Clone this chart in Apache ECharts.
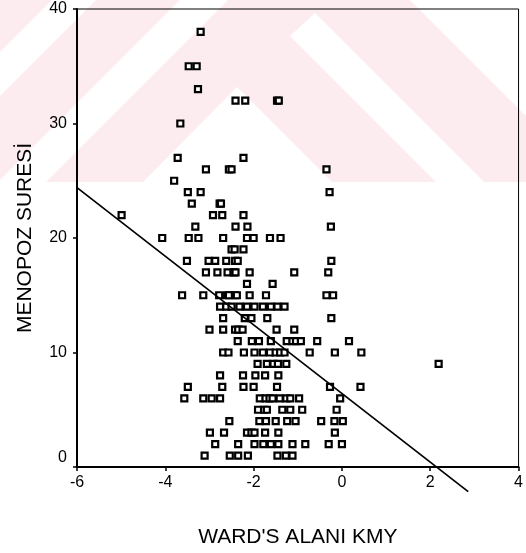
<!DOCTYPE html>
<html>
<head>
<meta charset="utf-8">
<script src="https://cdn.jsdelivr.net/npm/echarts@6/dist/echarts.min.js"></script>
<style>
  html, body { margin: 0; padding: 0; background: #ffffff; }
  #main { width: 526px; height: 553px; }
</style>
</head>
<body>
<div id="main"></div>
<script>
// Ward's area (KMY) against years since menopause, one entry per woman.
const wardArea = [
  -3.20,
  -3.47, -3.29,
  -3.26,
  -2.41, -2.19, -1.47, -1.43,
  -3.66,
  -3.72, -2.23,
  -3.08, -2.56, -2.50, -0.35,
  -3.80,
  -3.49, -3.20, -0.28,
  -3.40, -2.77, -2.74,
  -4.99, -2.92, -2.71, -2.23,
  -3.32, -2.41, -2.14, -0.25,
  -4.07, -3.47, -3.25, -2.69, -2.15, -2.00, -1.63, -1.39,
  -2.50, -2.43, -2.23,
  -3.51, -3.02, -2.87, -2.62, -2.42, -2.36, -0.24,
  -3.08, -2.82, -2.59, -2.45, -2.41, -2.09, -1.08, -0.31,
  -2.15, -1.57,
  -3.62, -3.14, -2.78, -2.60, -2.56, -2.42, -2.38, -2.09, -1.72, -0.35, -0.20,
  -2.76, -2.62, -2.50, -2.32, -2.15, -1.98, -1.79, -1.61, -1.46, -1.30,
  -2.69, -2.20, -2.05, -1.69, -0.24,
  -3.00, -2.69, -2.42, -2.35, -2.25, -1.48, -1.08,
  -2.36, -2.04, -1.88, -1.61, -1.25, -1.12, -1.04, -0.93, -0.56, 0.16,
  -2.69, -2.57, -2.22, -1.98, -1.79, -1.63, -1.50, -1.40, -1.30, -0.73, -0.16, 0.44,
  -1.91, -1.70, -1.55, -1.45, -1.26, 2.19,
  -2.76, -2.24, -1.96, -1.74, -1.44,
  -3.49, -2.71, -2.23, -2.00, -1.47, -0.27, 0.42,
  -3.57, -3.14, -2.95, -2.76, -1.86, -1.73, -1.64, -1.57, -1.41, -1.26, -1.17, -0.97, -0.04,
  -1.90, -1.76, -1.70, -1.35, -1.17, -0.90, -0.12,
  -2.55, -1.87, -1.72, -1.50, -1.24, -1.05, -0.47, -0.17, 0.02,
  -2.99, -2.67, -2.15, -2.05, -1.98, -1.74, -1.44, -0.16,
  -2.87, -2.35, -1.98, -1.78, -1.61, -1.44, -1.12, -0.83, -0.30, 0.00,
  -3.11, -2.54, -2.35, -2.13, -1.46, -1.27, -1.12
];

const menopauseYears = [
  38,
  35, 35,
  33,
  32, 32, 32, 32,
  30,
  27, 27,
  26, 26, 26, 26,
  25,
  24, 24, 24,
  23, 23, 23,
  22, 22, 22, 22,
  21, 21, 21, 21,
  20, 20, 20, 20, 20, 20, 20, 20,
  19, 19, 19,
  18, 18, 18, 18, 18, 18, 18,
  17, 17, 17, 17, 17, 17, 17, 17,
  16, 16,
  15, 15, 15, 15, 15, 15, 15, 15, 15, 15, 15,
  14, 14, 14, 14, 14, 14, 14, 14, 14, 14,
  13, 13, 13, 13, 13,
  12, 12, 12, 12, 12, 12, 12,
  11, 11, 11, 11, 11, 11, 11, 11, 11, 11,
  10, 10, 10, 10, 10, 10, 10, 10, 10, 10, 10, 10,
  9, 9, 9, 9, 9, 9,
  8, 8, 8, 8, 8,
  7, 7, 7, 7, 7, 7, 7,
  6, 6, 6, 6, 6, 6, 6, 6, 6, 6, 6, 6, 6,
  5, 5, 5, 5, 5, 5, 5,
  4, 4, 4, 4, 4, 4, 4, 4, 4,
  3, 3, 3, 3, 3, 3, 3, 3,
  2, 2, 2, 2, 2, 2, 2, 2, 2, 2,
  1, 1, 1, 1, 1, 1, 1
];

// Fitted regression line, start and end points
const fitX = [-6, 2.86];
const fitY = [24.4, -2.15];

// Tick values
const xTicks = [-6, -4, -2, 0, 2, 4];
const yTicks = [0, 10, 20, 30, 40];

const points = wardArea.map((x, i) => [x, menopauseYears[i]]);
const fitLine = fitX.map((x, i) => [x, fitY[i]]);

const FONT = '"Liberation Sans", Arial, sans-serif';
const PINK = '#fdecef';

const chart = echarts.init(document.getElementById('main'), null, { renderer: 'canvas' });

chart.setOption({
  animation: false,
  backgroundColor: '#ffffff',
  graphic: {
    elements: [
      { type: 'rect', z: -10, shape: { x: 0, y: 0, width: 526, height: 182 }, style: { fill: PINK } },
      { type: 'polygon', z: -9, shape: { points: [[52, 0], [96, 0], [0, 96], [0, 52]] }, style: { fill: '#ffffff' } },
      { type: 'polygon', z: -9, shape: { points: [[180, 0], [228, 0], [46, 182], [-2, 182]] }, style: { fill: '#ffffff' } },
      { type: 'polygon', z: -9, shape: { points: [[237, 87], [332, 182], [143, 182]] }, style: { fill: '#ffffff' } },
      { type: 'polygon', z: -9, shape: { points: [[290, 36], [315, 13], [484, 182], [436, 182]] }, style: { fill: '#ffffff' } },
      { type: 'polygon', z: -9, shape: { points: [[410, 0], [526, 0], [526, 116]] }, style: { fill: '#ffffff' } }
    ]
  },
  grid: {
    left: 77, right: 3, top: 9, bottom: 85,
    show: true, borderColor: '#000', borderWidth: 1, backgroundColor: 'transparent'
  },
  xAxis: {
    type: 'value',
    min: xTicks[0], max: xTicks[xTicks.length - 1], interval: xTicks[1] - xTicks[0],
    name: "WARD'S ALANI KMY",
    nameLocation: 'middle',
    nameGap: 60,
    nameTextStyle: { fontFamily: FONT, fontSize: 21, color: '#000' },
    axisLine: { onZero: false, lineStyle: { color: '#000', width: 2 } },
    axisTick: { show: true, inside: false, length: 4, lineStyle: { color: '#000', width: 1.5 } },
    axisLabel: { fontFamily: FONT, fontSize: 16, color: '#000', margin: 8 },
    splitLine: { show: false }
  },
  yAxis: {
    type: 'value',
    min: yTicks[0], max: yTicks[yTicks.length - 1], interval: yTicks[1] - yTicks[0],
    name: 'MENOPOZ SURESİ',
    nameLocation: 'middle',
    nameRotate: 90,
    nameGap: 41,
    nameTextStyle: { fontFamily: FONT, fontSize: 21, color: '#000' },
    axisLine: { onZero: false, lineStyle: { color: '#000', width: 2 } },
    axisTick: { show: true, inside: false, length: 4, lineStyle: { color: '#000', width: 1.5 } },
    axisLabel: {
      fontFamily: FONT, fontSize: 16, color: '#000', margin: 10,
      formatter: v => (v === yTicks[0] ? '{low|' + v + '}' : String(v)),
      rich: { low: { fontFamily: FONT, fontSize: 16, color: '#000', padding: [0, 0, 18, 0] } }
    },
    splitLine: { show: false }
  },
  series: [
    {
      type: 'scatter',
      data: points,
      symbol: 'rect',
      symbolSize: 6,
      itemStyle: { color: '#ffffff', borderColor: '#000', borderWidth: 2.2, opacity: 1 },
      z: 3
    },
    {
      type: 'line',
      data: fitLine,
      clip: false,
      symbol: 'none',
      lineStyle: { color: '#000', width: 1.7 },
      z: 4
    }
  ]
});
</script>
</body>
</html>
